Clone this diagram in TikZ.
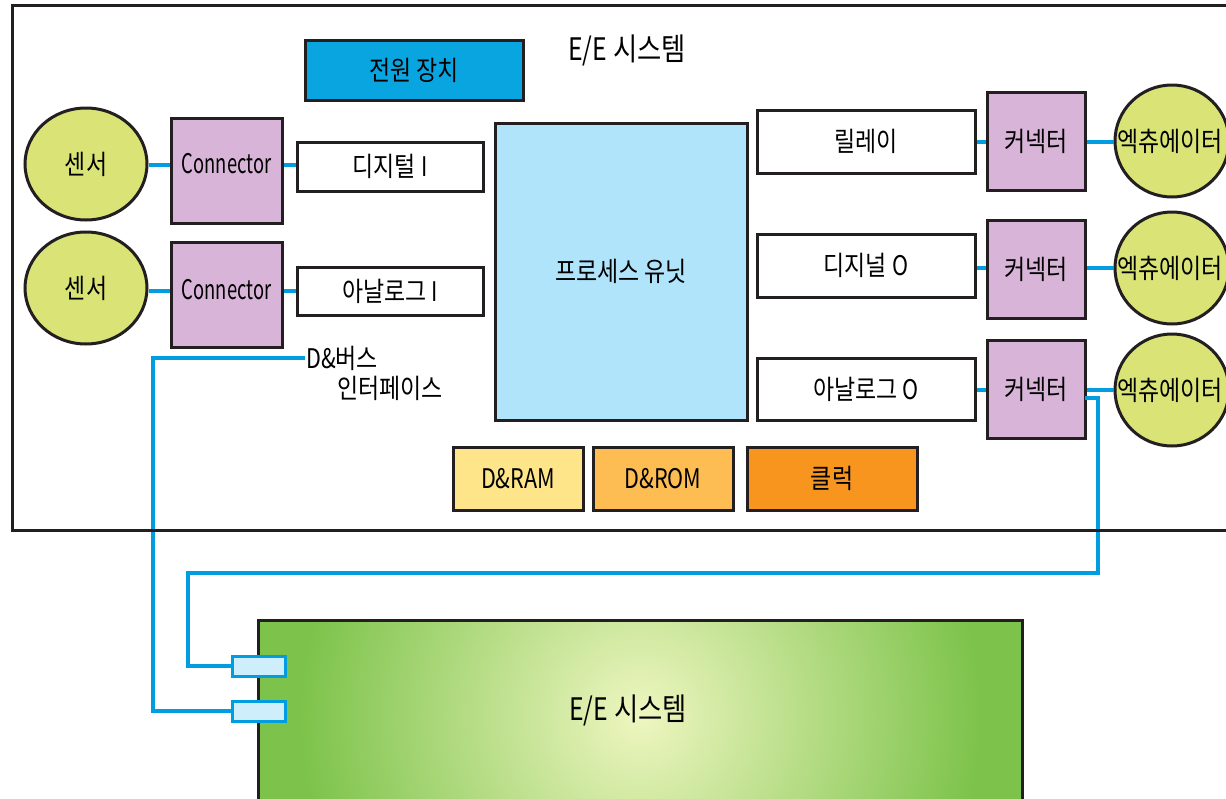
\documentclass[tikz,border=0pt]{standalone}
\usepackage{fontspec}
\setmainfont{Noto Sans CJK KR}[FakeStretch=0.85]
\newfontfamily\latf{Noto Sans CJK KR}[FakeStretch=0.8]
\newfontfamily\latn{Noto Sans CJK KR}[FakeStretch=0.68]
\newcommand\Lt[1]{{\latf #1}}
\newcommand\Ln[1]{{\latn #1}}
\usetikzlibrary{shapes.geometric}
\definecolor{edge}{RGB}{35,31,32}
\definecolor{pwc}{RGB}{8,165,224}
\definecolor{sens}{RGB}{218,228,118}
\definecolor{lav}{RGB}{216,180,216}
\definecolor{puc}{RGB}{176,228,250}
\definecolor{busc}{RGB}{0,158,224}
\definecolor{ramc}{RGB}{254,229,138}
\definecolor{romc}{RGB}{253,189,82}
\definecolor{clkc}{RGB}{247,149,30}
\definecolor{portc}{RGB}{205,238,250}
\definecolor{grn}{RGB}{125,195,75}
\definecolor{grnlight}{RGB}{238,246,192}
\tikzset{
  box/.style={draw=edge, line width=3pt, inner sep=0pt, font=\fontsize{27}{31}\selectfont},
  circ/.style={ellipse, draw=edge, line width=3pt, fill=sens, inner sep=0pt, font=\fontsize{27}{31}\selectfont},
  bus/.style={draw=busc, line width=3.5pt},
  port/.style={draw=busc, line width=3pt, fill=portc, inner sep=0pt, minimum width=53, minimum height=20},
  lbl/.style={inner sep=0pt, font=\fontsize{27}{31}\selectfont},
  big/.style={inner sep=0pt, font=\fontsize{31}{35}\selectfont}
}
\begin{document}
\begin{tikzpicture}[x=1pt,y=-1pt]
\useasboundingbox (0,0) rectangle (1226,798);
\clip (0,0) rectangle (1226,798);
\fill[white] (0,0) rectangle (1226,798);

% lower E/E system
\begin{scope}
\clip (258,620) rectangle (1022,805);
\fill[grn] (258,620) rectangle (1022,805);
\shade[inner color=grnlight, outer color=grn] (640,716) circle (340);
\end{scope}
\draw[edge, line width=3pt] (258,805) -- (258,620) -- (1022,620) -- (1022,805);
\node[big] (ee2) at (628,710) {\Lt{E/E} 시스템};

% nodes
\node[box, fill=pwc, minimum width=218, minimum height=60] (pw) at (414,70) {전원 장치};
\node[big] (title) at (627,50) {\Lt{E/E} 시스템};

\node[circ, minimum width=122, minimum height=112] (s1) at (86,164) {센서};
\node[circ, minimum width=122, minimum height=112] (s2) at (86,288) {센서};
\node[box, fill=lav, minimum width=111, minimum height=105] (c1) at (226.5,170.5) {};
\node[box, fill=lav, minimum width=111, minimum height=105] (c2) at (226.5,294.5) {};
\node[lbl] (c1t) at (226.5,164) {\Ln{Connector}};
\node[lbl] (c2t) at (226.5,290) {\Ln{Connector}};
\node[box, fill=white, minimum width=186, minimum height=49] (di) at (390,166.5) {디지털 \Lt{I}};
\node[box, fill=white, minimum width=186, minimum height=48] (ai) at (390,291) {아날로그 \Lt{I}};

\node[box, fill=puc, minimum width=252, minimum height=297] (pu) at (621,271.5) {프로세스 유닛};

\node[box, fill=white, minimum width=218, minimum height=63] (r1) at (866,141.5) {릴레이};
\node[box, fill=white, minimum width=218, minimum height=63] (r2) at (866,265.5) {디지널 \Lt{O}};
\node[box, fill=white, minimum width=218, minimum height=62] (r3) at (866,389) {아날로그 \Lt{O}};

\node[box, fill=lav, minimum width=98, minimum height=98] (k1) at (1036,141) {커넥터};
\node[box, fill=lav, minimum width=98, minimum height=98] (k2) at (1036,269) {커넥터};
\node[box, fill=lav, minimum width=98, minimum height=98] (k3) at (1036,389) {커넥터};

\node[circ, minimum width=114, minimum height=112] (a1) at (1172,141) {};
\node[circ, minimum width=114, minimum height=112] (a2) at (1172,268) {};
\node[circ, minimum width=114, minimum height=112] (a3) at (1172,390) {};
\node[lbl, anchor=west] (a1t) at (1117,141) {엑츄에이터};
\node[lbl, anchor=west] (a2t) at (1117,268) {엑츄에이터};
\node[lbl, anchor=west] (a3t) at (1117,390) {엑츄에이터};

\node[box, fill=ramc, minimum width=130, minimum height=63] (ram) at (518,478.5) {\Lt{D\&RAM}};
\node[box, fill=romc, minimum width=140, minimum height=63] (rom) at (663,478.5) {\Lt{D\&ROM}};
\node[box, fill=clkc, minimum width=170, minimum height=63] (clk) at (832,478.5) {클럭};

\node[lbl, anchor=west] (busl1) at (306,358) {\Lt{D\&}버스};
\node[lbl, anchor=west] (busl2) at (337,388) {인터페이스};

% short links
\draw[bus] (s1.east |- 0,165) -- (c1.west |- 0,165);
\draw[bus] (c1.east |- 0,165) -- (di.west |- 0,165);
\draw[bus] (s2.east |- 0,291) -- (c2.west |- 0,291);
\draw[bus] (c2.east |- 0,291) -- (ai.west |- 0,291);
\draw[bus] (r1.east |- 0,142) -- (k1.west |- 0,142);
\draw[bus] (k1.east |- 0,142) -- (a1.west |- 0,142);
\draw[bus] (r2.east |- 0,268) -- (k2.west |- 0,268);
\draw[bus] (k2.east |- 0,268) -- (a2.west |- 0,268);
\draw[bus] (r3.east |- 0,390) -- (k3.west |- 0,390);
\draw[bus] (k3.east |- 0,390) -- (a3.west |- 0,390);

% ports
\node[port] (p1) at (258.5,666) {};
\node[port] (p2) at (258.5,711) {};

% long bus lines
\coordinate (b0) at (305,358);
\coordinate (b1) at (153,358);
\coordinate (b2) at (153,711);
\draw[bus] (b0) -- (b1) -- (b2) -- (p2.west);
\coordinate (q0) at (1085,398);
\coordinate (q1) at (1098,398);
\coordinate (q2) at (1098,573);
\coordinate (q3) at (188,573);
\coordinate (q4) at (188,666);
\draw[bus] (q0) -- (q1) -- (q2) -- (q3) -- (q4) -- (p1.west);

% outer frame
\draw[edge, line width=3pt] (1240,5) -- (12,5) -- (12,530) -- (1240,530);
\end{tikzpicture}
\end{document}
